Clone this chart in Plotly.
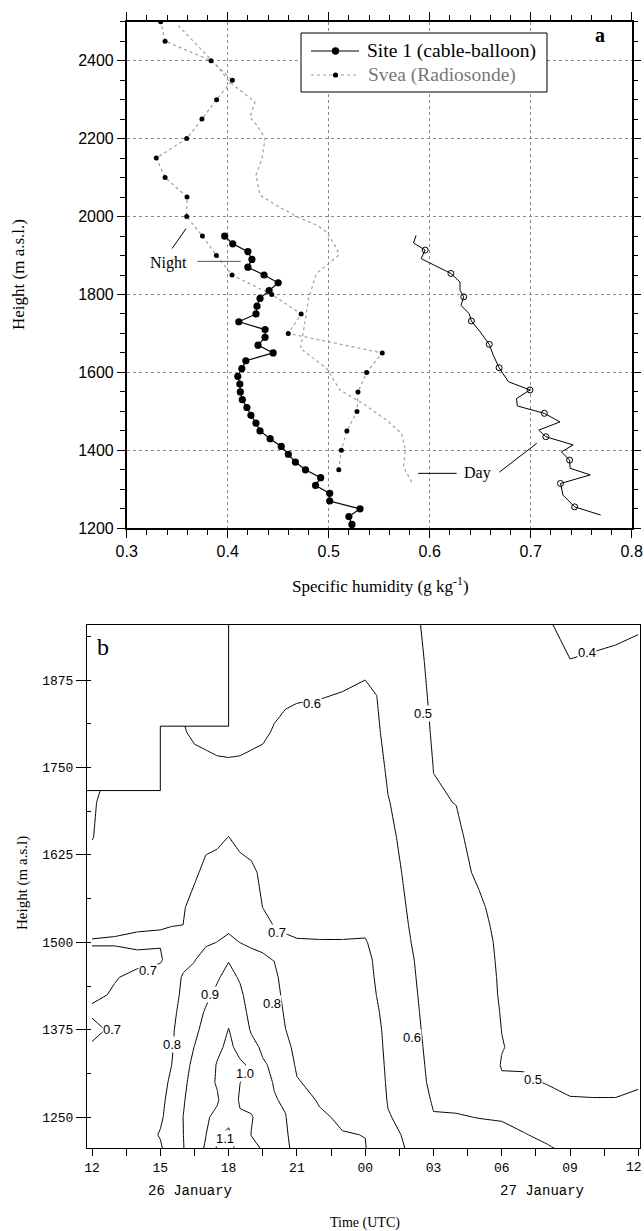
import plotly.graph_objects as go

# ---------------- Panel a data ----------------
site1_night_h = [1210, 1230, 1250, 1270, 1290, 1310, 1330, 1350, 1370, 1390, 1410, 1430, 1450, 1470,
                 1490, 1510, 1530, 1550, 1570, 1590, 1610, 1630, 1650, 1670, 1690, 1710, 1730, 1750,
                 1770, 1790, 1810, 1830, 1850, 1870, 1890, 1910, 1930, 1950]
site1_night_q = [0.523, 0.520, 0.531, 0.501, 0.501, 0.487, 0.492, 0.477, 0.467, 0.460, 0.453, 0.442,
                 0.432, 0.428, 0.423, 0.419, 0.4145, 0.4125, 0.412, 0.410, 0.414, 0.418, 0.445, 0.430,
                 0.437, 0.437, 0.411, 0.428, 0.429, 0.432, 0.441, 0.450, 0.436, 0.420, 0.424, 0.420,
                 0.405, 0.397]

svea_night_h = [1350, 1400, 1450, 1500, 1550, 1600, 1650, 1700, 1750, 1800, 1850, 1900, 1950, 2000,
                2050, 2100, 2150, 2200, 2250, 2300, 2350, 2400, 2450, 2500]
svea_night_q = [0.510, 0.5125, 0.518, 0.528, 0.529, 0.5376, 0.553, 0.460, 0.4727, 0.4436, 0.4043,
                0.3888, 0.375, 0.3594, 0.3597, 0.338, 0.3293, 0.3594, 0.3745, 0.389, 0.4046, 0.3835,
                0.338, 0.3337]

svea_day_h = [2490, 2430, 2388, 2345, 2311, 2294, 2255, 2234, 2200, 2149, 2106, 2055, 2029, 1999,
              1978, 1960, 1918, 1901, 1854, 1790, 1720, 1661, 1636, 1610, 1555, 1520, 1478, 1444,
              1401, 1358, 1315]
svea_day_q = [0.351, 0.373, 0.389, 0.402, 0.419, 0.427, 0.422, 0.429, 0.437, 0.434, 0.428, 0.432,
              0.448, 0.469, 0.488, 0.498, 0.508, 0.510, 0.488, 0.480, 0.476, 0.472, 0.485, 0.498,
              0.511, 0.534, 0.557, 0.572, 0.576, 0.574, 0.583]

site1_day_h = [1952, 1932, 1914, 1892, 1881, 1854, 1832, 1811, 1794, 1772, 1751, 1732, 1704, 1672,
               1644, 1612, 1576, 1555, 1533, 1514, 1495, 1473, 1452, 1435, 1414, 1396, 1375, 1354,
               1337, 1315, 1285, 1255, 1234]
site1_day_q = [0.5865, 0.584, 0.5955, 0.5915, 0.600, 0.621, 0.630, 0.630, 0.6337, 0.631, 0.639,
               0.6413, 0.650, 0.659, 0.663, 0.6687, 0.678, 0.6993, 0.686, 0.6867, 0.7135, 0.729,
               0.708, 0.715, 0.742, 0.7305, 0.7385, 0.739, 0.759, 0.7295, 0.732, 0.7435, 0.7693]
site1_day_circle_h = [1914, 1854, 1794, 1732, 1672, 1612, 1555, 1495, 1435, 1375, 1315, 1255]
site1_day_circle_q = [0.5955, 0.621, 0.6337, 0.6413, 0.659, 0.6687, 0.6993, 0.7135, 0.715, 0.7385,
                      0.7295, 0.7435]

legend_labels = ["Site 1 (cable-balloon)", "Svea (Radiosonde)"]

# ---------------- Panel b data ----------------
grid_time = [12, 13, 14, 15, 15.5, 16, 16.5, 17, 17.5, 18, 18.5, 19, 19.5, 20, 20.5, 21, 22, 23, 24,
             24.5, 25, 26, 27, 28, 29, 30, 31, 32, 33, 34, 35, 36]
grid_height = [1205, 1225, 1250, 1275, 1300, 1325, 1350, 1375, 1400, 1425, 1450, 1475, 1500, 1525,
               1550, 1600, 1650, 1700, 1750, 1800, 1850, 1900, 1955]
# one humidity profile (g/kg) per time column, bottom to top
humidity_profiles = [
    [0.74, 0.74, 0.74, 0.74, 0.74, 0.73, 0.72, 0.66, 0.72, 0.68, 0.66, 0.68, 0.705, 0.68, 0.665, 0.635, 0.597, 0.595, 0.58, 0.57, 0.56, 0.55, 0.54],
    [0.75, 0.75, 0.75, 0.75, 0.75, 0.75, 0.74, 0.73, 0.73, 0.71, 0.695, 0.68, 0.705, 0.69, 0.68, 0.66, 0.64, 0.62, 0.61, 0.60, 0.59, 0.58, 0.57],
    [0.76, 0.76, 0.76, 0.76, 0.76, 0.76, 0.76, 0.75, 0.75, 0.74, 0.72, 0.68, 0.715, 0.69, 0.68, 0.66, 0.64, 0.625, 0.61, 0.60, 0.59, 0.58, 0.57],
    [0.79, 0.805, 0.79, 0.785, 0.78, 0.775, 0.77, 0.765, 0.76, 0.75, 0.74, 0.69, 0.705, 0.698, 0.685, 0.67, 0.65, 0.635, 0.625, 0.615, 0.605, 0.60, 0.59],
    [0.84, 0.84, 0.83, 0.82, 0.81, 0.80, 0.79, 0.785, 0.77, 0.76, 0.75, 0.74, 0.72, 0.698, 0.69, 0.675, 0.655, 0.64, 0.625, 0.612, 0.60, 0.59, 0.58],
    [0.895, 0.898, 0.90, 0.89, 0.88, 0.87, 0.86, 0.85, 0.84, 0.82, 0.81, 0.77, 0.74, 0.70, 0.695, 0.68, 0.66, 0.645, 0.628, 0.605, 0.59, 0.58, 0.57],
    [0.96, 0.96, 0.955, 0.95, 0.935, 0.92, 0.902, 0.88, 0.86, 0.84, 0.82, 0.797, 0.77, 0.74, 0.72, 0.69, 0.665, 0.64, 0.62, 0.59, 0.57, 0.56, 0.55],
    [1.01, 0.998, 0.99, 0.98, 0.97, 0.96, 0.95, 0.93, 0.91, 0.88, 0.86, 0.83, 0.79, 0.765, 0.745, 0.715, 0.685, 0.655, 0.615, 0.585, 0.57, 0.56, 0.55],
    [1.11, 1.095, 1.02, 0.99, 1.008, 1.005, 0.985, 0.96, 0.94, 0.92, 0.89, 0.85, 0.801, 0.775, 0.755, 0.72, 0.69, 0.66, 0.61, 0.58, 0.57, 0.56, 0.55],
    [1.13, 1.11, 1.085, 1.06, 1.045, 1.03, 1.015, 1.002, 0.98, 0.96, 0.93, 0.895, 0.82, 0.78, 0.76, 0.73, 0.701, 0.665, 0.61, 0.575, 0.56, 0.55, 0.54],
    [1.07, 1.05, 1.01, 0.99, 1.001, 1.01, 0.98, 0.96, 0.94, 0.92, 0.89, 0.85, 0.799, 0.77, 0.75, 0.72, 0.685, 0.65, 0.61, 0.58, 0.56, 0.55, 0.54],
    [1.02, 0.998, 1.005, 0.98, 0.975, 0.99, 0.93, 0.89, 0.87, 0.85, 0.83, 0.81, 0.795, 0.77, 0.75, 0.71, 0.68, 0.65, 0.615, 0.585, 0.565, 0.55, 0.54],
    [0.995, 0.985, 0.97, 0.95, 0.93, 0.91, 0.885, 0.87, 0.86, 0.845, 0.83, 0.81, 0.785, 0.74, 0.699, 0.69, 0.67, 0.645, 0.62, 0.59, 0.57, 0.555, 0.545],
    [0.93, 0.925, 0.915, 0.905, 0.895, 0.885, 0.875, 0.865, 0.855, 0.84, 0.825, 0.798, 0.76, 0.695, 0.685, 0.67, 0.655, 0.64, 0.625, 0.605, 0.585, 0.565, 0.55],
    [0.915, 0.91, 0.903, 0.89, 0.865, 0.84, 0.82, 0.801, 0.785, 0.77, 0.755, 0.735, 0.71, 0.69, 0.68, 0.665, 0.65, 0.635, 0.625, 0.61, 0.595, 0.575, 0.56],
    [0.875, 0.865, 0.85, 0.83, 0.805, 0.79, 0.78, 0.77, 0.76, 0.75, 0.74, 0.725, 0.703, 0.69, 0.68, 0.67, 0.655, 0.64, 0.63, 0.615, 0.597, 0.58, 0.565],
    [0.835, 0.825, 0.81, 0.793, 0.78, 0.77, 0.76, 0.75, 0.745, 0.74, 0.73, 0.72, 0.702, 0.69, 0.68, 0.67, 0.66, 0.645, 0.635, 0.62, 0.599, 0.58, 0.565],
    [0.815, 0.803, 0.79, 0.78, 0.77, 0.76, 0.755, 0.75, 0.745, 0.74, 0.73, 0.72, 0.702, 0.69, 0.68, 0.67, 0.66, 0.65, 0.64, 0.625, 0.603, 0.585, 0.57],
    [0.803, 0.799, 0.79, 0.78, 0.77, 0.76, 0.755, 0.75, 0.745, 0.74, 0.735, 0.725, 0.705, 0.685, 0.675, 0.665, 0.655, 0.645, 0.635, 0.625, 0.61, 0.59, 0.575],
    [0.77, 0.765, 0.755, 0.745, 0.735, 0.73, 0.725, 0.72, 0.71, 0.699, 0.69, 0.685, 0.68, 0.675, 0.67, 0.66, 0.65, 0.64, 0.625, 0.61, 0.601, 0.585, 0.57],
    [0.73, 0.72, 0.705, 0.695, 0.69, 0.685, 0.68, 0.675, 0.67, 0.665, 0.66, 0.655, 0.65, 0.645, 0.64, 0.63, 0.615, 0.603, 0.59, 0.58, 0.57, 0.56, 0.55],
    [0.69, 0.685, 0.675, 0.665, 0.645, 0.64, 0.635, 0.63, 0.625, 0.62, 0.615, 0.61, 0.601, 0.595, 0.59, 0.58, 0.575, 0.57, 0.565, 0.56, 0.555, 0.545, 0.53],
    [0.64, 0.625, 0.605, 0.59, 0.58, 0.575, 0.57, 0.565, 0.56, 0.555, 0.55, 0.545, 0.54, 0.535, 0.53, 0.52, 0.51, 0.505, 0.499, 0.49, 0.48, 0.47, 0.46],
    [0.635, 0.62, 0.603, 0.59, 0.58, 0.575, 0.57, 0.565, 0.56, 0.555, 0.55, 0.545, 0.54, 0.535, 0.53, 0.52, 0.51, 0.499, 0.49, 0.48, 0.47, 0.46, 0.45],
    [0.63, 0.615, 0.599, 0.585, 0.575, 0.565, 0.56, 0.555, 0.55, 0.545, 0.54, 0.535, 0.53, 0.52, 0.51, 0.49, 0.48, 0.47, 0.46, 0.455, 0.45, 0.445, 0.44],
    [0.62, 0.61, 0.597, 0.56, 0.51, 0.495, 0.503, 0.499, 0.495, 0.49, 0.488, 0.485, 0.482, 0.478, 0.475, 0.47, 0.465, 0.46, 0.455, 0.45, 0.445, 0.44, 0.435],
    [0.612, 0.602, 0.585, 0.55, 0.515, 0.49, 0.48, 0.475, 0.47, 0.468, 0.465, 0.462, 0.46, 0.457, 0.455, 0.45, 0.445, 0.44, 0.435, 0.43, 0.425, 0.42, 0.415],
    [0.605, 0.59, 0.56, 0.53, 0.495, 0.475, 0.465, 0.46, 0.455, 0.452, 0.45, 0.447, 0.445, 0.442, 0.44, 0.435, 0.43, 0.425, 0.42, 0.415, 0.41, 0.406, 0.403],
    [0.59, 0.565, 0.535, 0.505, 0.48, 0.465, 0.455, 0.45, 0.445, 0.442, 0.44, 0.437, 0.435, 0.432, 0.43, 0.425, 0.42, 0.415, 0.41, 0.407, 0.404, 0.401, 0.39],
    [0.585, 0.56, 0.53, 0.503, 0.48, 0.465, 0.455, 0.45, 0.445, 0.44, 0.437, 0.435, 0.432, 0.43, 0.428, 0.424, 0.42, 0.416, 0.412, 0.408, 0.405, 0.403, 0.392],
    [0.585, 0.56, 0.53, 0.503, 0.48, 0.465, 0.455, 0.45, 0.445, 0.44, 0.437, 0.435, 0.432, 0.43, 0.428, 0.425, 0.42, 0.417, 0.414, 0.411, 0.408, 0.405, 0.394],
    [0.59, 0.565, 0.54, 0.515, 0.49, 0.47, 0.46, 0.452, 0.447, 0.443, 0.44, 0.437, 0.435, 0.432, 0.43, 0.427, 0.423, 0.42, 0.417, 0.414, 0.411, 0.408, 0.397],
]
# region without data (top-left step)
nodata_t = [11.6, 15, 15, 18, 18, 11.6]
nodata_h = [1717, 1717, 1809, 1809, 1970, 1970]

time_tickvals = [12, 15, 18, 21, 24, 27, 30, 33, 36]
time_ticktext = ["12", "15", "18", "21", "00", "03", "06", "09", "12"]
height_tickvals = [1250, 1375, 1500, 1625, 1750, 1875]

# contour labels: (time, height, text)
contour_labels = [
    (33.73, 1915, "0.4"), (21.65, 1841, "0.6"), (26.56, 1827, "0.5"), (20.11, 1514, "0.7"),
    (14.47, 1460, "0.7"), (12.86, 1376, "0.7"), (17.18, 1425, "0.9"), (19.92, 1413, "0.8"),
    (15.5, 1354, "0.8"), (18.72, 1313, "1.0"), (17.84, 1219, "1.1"), (26.06, 1364, "0.6"),
    (31.39, 1304, "0.5"),
]

SERIF = "Liberation Serif"
SANS = "Liberation Sans"
MONO = "Liberation Mono"
W, H = 644, 1231


def px(xp):
    return xp / W


def py(yp):
    return 1 - yp / H


fig = go.Figure()

# ---------------- Panel a traces ----------------
fig.add_trace(go.Scatter(x=svea_day_q, y=svea_day_h, mode="lines",
                         line=dict(color="#a0a0a0", width=1.2, dash="dot"), xaxis="x", yaxis="y"))
fig.add_trace(go.Scatter(x=svea_night_q, y=svea_night_h, mode="lines+markers", name=legend_labels[1],
                         line=dict(color="#a0a0a0", width=1.2, dash="dot"),
                         marker=dict(color="black", size=5), xaxis="x", yaxis="y"))
fig.add_trace(go.Scatter(x=site1_day_q, y=site1_day_h, mode="lines",
                         line=dict(color="black", width=1), xaxis="x", yaxis="y"))
fig.add_trace(go.Scatter(x=site1_day_circle_q, y=site1_day_circle_h, mode="markers",
                         marker=dict(symbol="circle-open", color="black", size=6, line=dict(width=1)),
                         xaxis="x", yaxis="y"))
fig.add_trace(go.Scatter(x=site1_night_q, y=site1_night_h, mode="lines+markers", name=legend_labels[0],
                         line=dict(color="black", width=1.2),
                         marker=dict(color="black", size=7.2), xaxis="x", yaxis="y"))

# ---------------- Panel b traces ----------------
fig.add_trace(go.Contour(x=grid_time, y=grid_height, z=humidity_profiles, transpose=True,
                         showscale=False,
                         contours=dict(start=0.4, end=1.1, size=0.1, coloring="none", showlabels=False),
                         line=dict(color="black", width=1, smoothing=0),
                         xaxis="x2", yaxis="y2", hoverinfo="skip"))
fig.add_trace(go.Scatter(x=nodata_t, y=nodata_h, mode="lines", fill="toself", fillcolor="white",
                         line=dict(color="black", width=1),
                         xaxis="x2", yaxis="y2", hoverinfo="skip"))

annotations = []
for t, h, txt in contour_labels:
    annotations.append(dict(x=t, y=h, xref="x2", yref="y2", text=txt, showarrow=False,
                            xanchor="center", yanchor="middle",
                            font=dict(family=SANS, size=13, color="black"),
                            bgcolor="white", borderpad=0))


def label(x, y, text, font, size, xref="paper", yref="paper", angle=0, xanchor="center", color="black"):
    return dict(x=x, y=y, xref=xref, yref=yref, text=text, textangle=angle, showarrow=False,
                xanchor=xanchor, yanchor="middle", font=dict(family=font, size=size, color=color))


annotations += [
    label(px(18), py(275), "Height (m a.s.l.)", SERIF, 17, angle=-90),
    label(px(380), py(585), "Specific humidity (g kg<sup>-1</sup>)", SERIF, 17),
    label(px(600), py(35), "<b>a</b>", SERIF, 20),
    label(0.3412, 1882, "Night", SERIF, 16, xref="x", yref="y"),
    label(0.647, 1341, "Day", SERIF, 16, xref="x", yref="y"),
    label(px(22), py(883), "Height (m a.s.l)", SERIF, 15, angle=-90),
    label(px(365), py(1223), "Time (UTC)", SERIF, 14),
    label(16.3, py(1191), "26 January", MONO, 14, xref="x2"),
    label(31.76, py(1191), "27 January", MONO, 14, xref="x2"),
    label(px(103), py(647), "b", SERIF, 24),
    # last time tick label, kept inside the page edge
    label(1.0, py(1167), time_ticktext[-1], MONO, 13, xanchor="right"),
    # legend texts
    label(px(365), py(51), legend_labels[0], SERIF, 19.5, xanchor="left"),
    label(px(366), py(75), legend_labels[1], SERIF, 19.5, xanchor="left", color="#777777"),
]

shapes = [
    dict(type="line", xref="x", yref="y", x0=0.345, y0=1918, x1=0.3587, y1=1969,
         line=dict(color="black", width=1)),
    dict(type="line", xref="x", yref="y", x0=0.3699, y0=1885, x1=0.4129, y1=1885,
         line=dict(color="#555555", width=1)),
    dict(type="line", xref="x", yref="y", x0=0.5887, y0=1341, x1=0.6267, y1=1341,
         line=dict(color="black", width=1)),
    dict(type="line", xref="x", yref="y", x0=0.6689, y0=1344, x1=0.706, y1=1418,
         line=dict(color="black", width=1)),
    # legend box
    dict(type="rect", xref="paper", yref="paper", x0=px(301), x1=px(547), y0=py(92), y1=py(33),
         fillcolor="white", line=dict(color="black", width=1)),
    dict(type="line", xref="paper", yref="paper", x0=px(311), x1=px(359), y0=py(51), y1=py(51),
         line=dict(color="black", width=1.2)),
    dict(type="line", xref="paper", yref="paper", x0=px(311), x1=px(359), y0=py(75), y1=py(75),
         line=dict(color="#a0a0a0", width=1.2, dash="dot")),
    dict(type="circle", xref="paper", yref="paper", xsizemode="pixel", ysizemode="pixel",
         xanchor=px(335.5), yanchor=py(51), x0=-3.7, x1=3.7, y0=-3.7, y1=3.7,
         fillcolor="black", line=dict(width=0)),
    dict(type="circle", xref="paper", yref="paper", xsizemode="pixel", ysizemode="pixel",
         xanchor=px(335.5), yanchor=py(75), x0=-2.6, x1=2.6, y0=-2.6, y1=2.6,
         fillcolor="black", line=dict(width=0)),
]

axis_a_common = dict(showline=True, linecolor="black", linewidth=1.5, mirror="allticks",
                     ticks="outside", ticklen=8, tickwidth=1.3, tickcolor="black",
                     showgrid=True, gridcolor="#8a8a8a", gridwidth=1, griddash="dot",
                     zeroline=False, automargin=False,
                     tickfont=dict(family=SANS, size=16, color="black"))

fig.update_layout(
    template="none",
    width=W, height=H, margin=dict(l=0, r=0, t=0, b=0, pad=0, autoexpand=False),
    paper_bgcolor="white", plot_bgcolor="white", showlegend=False,
    xaxis=dict(domain=[px(126.7), px(631.7)], range=[0.3, 0.8], dtick=0.1, tick0=0.3,
               tickformat=".1f", anchor="y", ticklabeloverflow="allow",
               minor=dict(dtick=0.02, tick0=0.3, ticks="outside", ticklen=5, tickcolor="black",
                          showgrid=False),
               **axis_a_common),
    yaxis=dict(domain=[py(528.3), py(21.7)], range=[1200, 2500], dtick=200, tick0=1200, anchor="x",
               minor=dict(dtick=50, tick0=1200, ticks="outside", ticklen=5, tickcolor="black",
                          showgrid=False),
               **axis_a_common),
    xaxis2=dict(domain=[px(87), px(640)], range=[11.78, 36.07], anchor="y2",
                tickvals=time_tickvals, ticktext=time_ticktext[:-1] + [""],
                showline=True, linecolor="black",
                linewidth=1, mirror=True, ticks="outside", ticklen=7, tickcolor="black",
                showgrid=False, zeroline=False, automargin=False, ticklabeloverflow="allow",
                ticklabelstandoff=0,
                minor=dict(dtick=1.5, tick0=12, ticks="outside", ticklen=7, tickcolor="black",
                           showgrid=False),
                tickfont=dict(family=MONO, size=13, color="black")),
    yaxis2=dict(domain=[py(1148.3), py(625)], range=[1205.7, 1953.6], anchor="x2",
                tickvals=height_tickvals, showline=True, linecolor="black", linewidth=1,
                mirror=True, ticks="outside", ticklen=10, tickcolor="black",
                showgrid=False, zeroline=False, automargin=False,
                minor=dict(dtick=62.5, tick0=1250, ticks="inside", ticklen=4, tickcolor="black",
                           showgrid=False),
                tickfont=dict(family=MONO, size=13, color="black")),
    annotations=annotations,
    shapes=shapes,
)

fig.write_html("out.html", config={"displayModeBar": False},
               post_script="document.body.style.margin='0px';")
